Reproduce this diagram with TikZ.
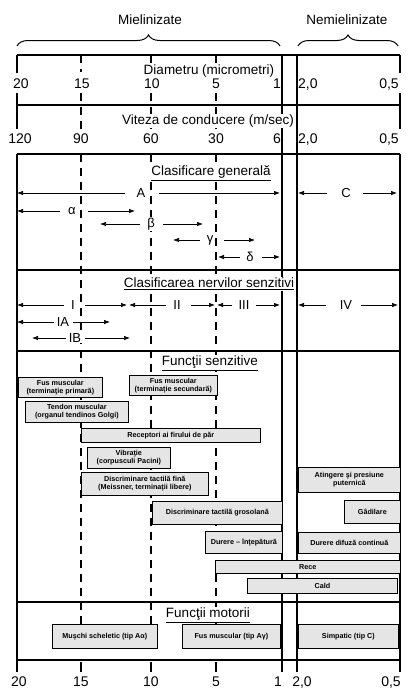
\documentclass[tikz,border=0pt]{standalone}
\usepackage{fontspec}
\setmainfont{Liberation Sans}
\usetikzlibrary{arrows.meta,decorations.pathreplacing}

\begin{document}
\begin{tikzpicture}[x=1pt,y=-1pt,
  frame/.style={line width=1.1pt},
  dashline/.style={line width=1.1pt, dash pattern=on 8pt off 6pt},
  dim/.style={line width=0.7pt, -{Latex[length=6pt,width=4.5pt]}, shorten <=#1},
  dim/.default=6pt,
  lbl/.style={font=\fontsize{13}{15}\selectfont, inner xsep=1pt, inner ysep=1pt, fill=white},
  num/.style={font=\fontsize{14}{16}\selectfont, inner sep=0pt, anchor=base},
  title/.style={font=\fontsize{13.5}{16}\selectfont, inner sep=1pt, fill=white},
  box/.style={draw, line width=0.7pt, fill=gray!20, align=center, inner sep=1pt,
    font=\fontsize{7.2}{8.2}\selectfont\bfseries, anchor=north west},
]
\useasboundingbox (0,0) rectangle (415,688);

% ---------- braces over the two fibre groups ----------
\node[title] (miel) at (150,20) {Mielinizate};
\node[title] (nemiel) at (347,20) {Nemielinizate};
\draw[decorate, decoration={brace, amplitude=11pt}, line width=1pt] (17,46) -- (280,46);
\draw[decorate, decoration={brace, amplitude=11pt}, line width=1pt] (298,46) -- (398,46);

% ---------- horizontal rules ----------
\foreach \y in {55,105,154,270,351,602,660}
  \draw[frame] (17,\y) -- (400,\y);

% ---------- vertical rules ----------
\foreach \x in {17,400} {
  \draw[frame] (\x,55) -- (\x,73);
  \draw[frame] (\x,93) -- (\x,129);
  \draw[frame] (\x,154) -- (\x,672);
}
\foreach \x in {282,297}
  \draw[frame] (\x,55) -- (\x,672);
\foreach \x in {81,151,216} {
  \draw[dashline] (\x,55) -- (\x,72);
  \draw[dashline] (\x,93) -- (\x,129);
  \draw[dashline] (\x,154) -- (\x,640);
  \draw[frame] (\x,662) -- (\x,672);
}

% ---------- scales ----------
\node[title] (diam) at (209,71) {Diametru (micrometri)};
\node[num] (d20) at (21,88) {20};
\node[num] (d15) at (82,88) {15};
\node[num] (d10) at (152,88) {10};
\node[num] (d5) at (216,88) {5};
\node[num, anchor=base east] (d1) at (281,88) {1};
\node[num, anchor=base west] (d2) at (298,88) {2,0};
\node[num] (d05) at (389,88) {0,5};

\node[title] (vit) at (208,121) {Viteza de conducere (m/sec)};
\node[num] (v120) at (20,143) {120};
\node[num] (v90) at (81,143) {90};
\node[num] (v60) at (151,143) {60};
\node[num] (v30) at (216,143) {30};
\node[num, anchor=base east] (v6) at (281,143) {6};
\node[num, anchor=base west] (v2) at (298,143) {2,0};
\node[num] (v05) at (389,143) {0,5};

\node[num] (b20) at (19,686) {20};
\node[num] (b15) at (81,686) {15};
\node[num] (b10) at (151,686) {10};
\node[num] (b5) at (216,686) {5};
\node[num, anchor=base east] (b1) at (282,686) {1};
\node[num] (b2) at (302,686) {2,0};
\node[num] (b05) at (391,686) {0,5};

% ---------- general classification ----------
\node[title] (tgen) at (211,173) {\underline{Clasificare generală}};

\node[lbl] (A) at (141,193) {A};
\coordinate (Al) at (17,193); \coordinate (Ar) at (280,193);
\draw[dim=10pt] (A.west) -- (Al); \draw[dim=12pt] (A.east) -- (Ar);

\node[lbl] (C) at (346,193) {C};
\coordinate (Cl) at (298,193); \coordinate (Cr) at (397,193);
\draw[dim=13pt] (C.west) -- (Cl); \draw[dim=11pt] (C.east) -- (Cr);

\node[lbl] (alpha) at (72,211) {α};
\coordinate (al) at (17,211); \coordinate (ar) at (135,211);
\draw[dim=7pt] (alpha.west) -- (al); \draw[dim=11pt] (alpha.east) -- (ar);

\node[lbl] (beta) at (151,224) {β};
\coordinate (bl) at (100,224); \coordinate (br) at (203,224);
\draw[dim] (beta.west) -- (bl); \draw[dim=7pt] (beta.east) -- (br);

\node[lbl] (gamma) at (210,240) {γ};
\coordinate (gl) at (173,240); \coordinate (gr) at (255,240);
\draw[dim] (gamma.west) -- (gl); \draw[dim=10pt] (gamma.east) -- (gr);

\node[lbl] (delta) at (250,257) {δ};
\coordinate (dl) at (218,257); \coordinate (dr) at (280,257);
\draw[dim=5pt] (delta.west) -- (dl); \draw[dim=7pt] (delta.east) -- (dr);

% ---------- sensory nerve classification ----------
\node[title] (tsen) at (209,284) {\underline{Clasificarea nervilor senzitivi}};

\node[lbl] (I) at (73,305) {I};
\coordinate (Il) at (17,305); \coordinate (Ir) at (127,305);
\draw[dim] (I.west) -- (Il); \draw[dim=9pt] (I.east) -- (Ir);

\node[lbl] (II) at (177,305) {II};
\coordinate (IIl) at (129,305); \coordinate (IIr) at (215,305);
\draw[dim] (II.west) -- (IIl); \draw[dim=9pt] (II.east) -- (IIr);

\node[lbl] (III) at (244,305) {III};
\coordinate (IIIl) at (217,305); \coordinate (IIIr) at (280,305);
\draw[dim=5pt] (III.west) -- (IIIl); \draw[dim=5pt] (III.east) -- (IIIr);

\node[lbl] (IV) at (346,305) {IV};
\coordinate (IVl) at (298,305); \coordinate (IVr) at (398,305);
\draw[dim=13pt] (IV.west) -- (IVl); \draw[dim=8pt] (IV.east) -- (IVr);

\node[lbl] (IA) at (63,322) {IA};
\coordinate (IAl) at (17,322); \coordinate (IAr) at (110,322);
\draw[dim=2pt] (IA.west) -- (IAl); \draw[dim=3pt] (IA.east) -- (IAr);

\node[lbl] (IB) at (75,338) {IB};
\coordinate (IBl) at (32,338); \coordinate (IBr) at (130,338);
\draw[dim=2pt] (IB.west) -- (IBl); \draw[dim=3pt] (IB.east) -- (IBr);

% ---------- sensory functions ----------
\node[title] (tfs) at (210,363) {\underline{Funcţii senzitive}};

\node[box, minimum width=84pt, minimum height=20pt] (fusp) at (18,377)
  {Fus muscular\\(terminaţie primară)};
\node[box, minimum width=88pt, minimum height=20pt] (fuss) at (129,375)
  {Fus muscular\\(terminaţie secundară)};
\node[box, minimum width=103pt, minimum height=21pt] (tendon) at (25,401)
  {Tendon muscular\\(organul tendinos Golgi)};
\node[box, minimum width=179pt, minimum height=14pt] (par) at (81,428)
  {Receptori ai firului de păr};
\node[box, minimum width=83pt, minimum height=21pt] (vibr) at (87,447)
  {Vibraţie\\(corpusculi Pacini)};
\node[box, minimum width=127pt, minimum height=23pt] (fina) at (81,472)
  {Discriminare tactilă fină\\(Meissner, terminaţii libere)};
\node[box, minimum width=130pt, minimum height=23pt] (gros) at (152,501)
  {Discriminare tactilă grosolană};
\node[box, minimum width=77pt, minimum height=22pt] (intep) at (205,531)
  {Durere – înţepătură};
\node[box, minimum width=102pt, minimum height=25pt] (ating) at (298,467)
  {Atingere şi presiune\\puternică};
\node[box, minimum width=56pt, minimum height=23pt] (gadil) at (344,500)
  {Gâdilare};
\node[box, minimum width=102pt, minimum height=21pt] (difuz) at (298,532)
  {Durere difuză continuă};
\node[box, minimum width=185pt, minimum height=13pt] (rece) at (215,560)
  {Rece};
\node[box, minimum width=150pt, minimum height=15pt] (cald) at (247,578)
  {Cald};

% ---------- motor functions ----------
\node[title] (tfm) at (208,615) {\underline{Funcţii motorii}};

\node[box, minimum width=105pt, minimum height=24pt] (musch) at (52,624)
  {Muşchi scheletic (tip Aα)};
\node[box, minimum width=98pt, minimum height=24pt] (fusm) at (182,624)
  {Fus muscular (tip Aγ)};
\node[box, minimum width=100pt, minimum height=24pt] (simp) at (298,624)
  {Simpatic (tip C)};

\end{tikzpicture}
\end{document}
